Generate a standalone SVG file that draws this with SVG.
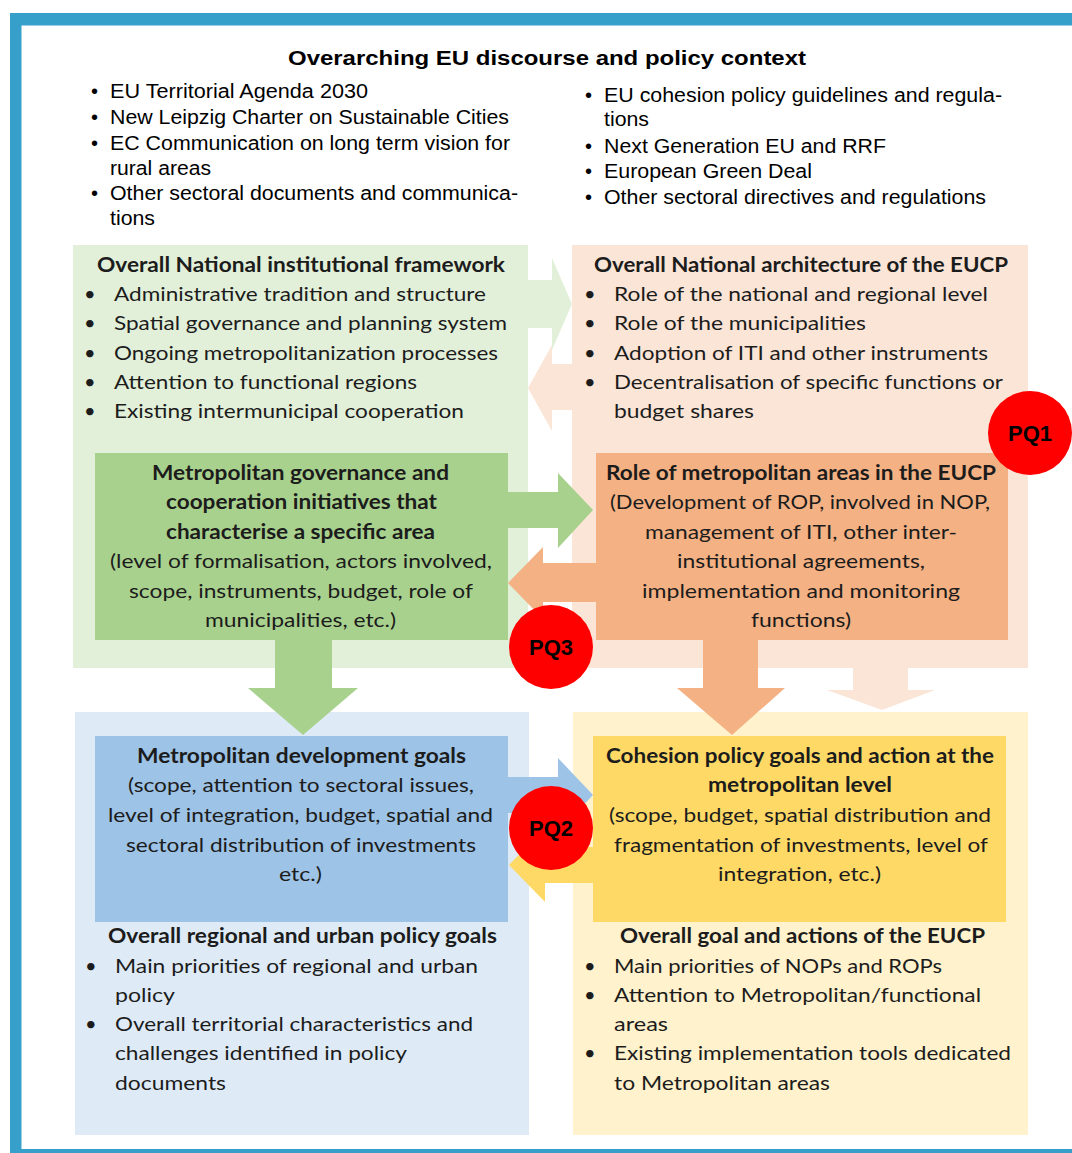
<svg xmlns="http://www.w3.org/2000/svg" width="1072" height="1153" viewBox="0 0 1072 1153">
<style>
.t{font-family:Lato,'Noto Sans',sans-serif;font-size:20px;fill:#1c1c1c}
.b{font-weight:bold}
.a{font-family:'Liberation Sans',Arial,sans-serif;font-size:20px;fill:#000}
.pq{font-family:'Liberation Sans',Arial,sans-serif;font-weight:bold;font-size:22px;fill:#000;text-anchor:middle}
.circ{fill:#FF0000}
</style>
<g id="frame">
<rect x="10" y="13" width="1080" height="1150" fill="#36A0CB"/>
<rect x="21.5" y="25.5" width="1070" height="1123.5" fill="#FFFFFF"/>
</g>
<g id="context">
<text class="a b" x="547" y="65" text-anchor="middle" font-size="21" textLength="518" lengthAdjust="spacingAndGlyphs">Overarching EU discourse and policy context</text>
<text class="a" x="91" y="98">•</text><text class="a" x="110" y="98" textLength="258" lengthAdjust="spacingAndGlyphs">EU Territorial Agenda 2030</text>
<text class="a" x="91" y="124">•</text><text class="a" x="110" y="124" textLength="399" lengthAdjust="spacingAndGlyphs">New Leipzig Charter on Sustainable Cities</text>
<text class="a" x="91" y="150">•</text><text class="a" x="110" y="150" textLength="400" lengthAdjust="spacingAndGlyphs">EC Communication on long term vision for</text>
<text class="a" x="110" y="175" textLength="101" lengthAdjust="spacingAndGlyphs">rural areas</text>
<text class="a" x="91" y="200">•</text><text class="a" x="110" y="200" textLength="408" lengthAdjust="spacingAndGlyphs">Other sectoral documents and communica-</text>
<text class="a" x="110" y="225" textLength="45" lengthAdjust="spacingAndGlyphs">tions</text>
<text class="a" x="585" y="102">•</text><text class="a" x="604" y="102" textLength="398" lengthAdjust="spacingAndGlyphs">EU cohesion policy guidelines and regula-</text>
<text class="a" x="604" y="126" textLength="45" lengthAdjust="spacingAndGlyphs">tions</text>
<text class="a" x="585" y="153">•</text><text class="a" x="604" y="153" textLength="282" lengthAdjust="spacingAndGlyphs">Next Generation EU and RRF</text>
<text class="a" x="585" y="178">•</text><text class="a" x="604" y="178" textLength="208" lengthAdjust="spacingAndGlyphs">European Green Deal</text>
<text class="a" x="585" y="204">•</text><text class="a" x="604" y="204" textLength="382" lengthAdjust="spacingAndGlyphs">Other sectoral directives and regulations</text>
</g>
<g id="national-framework">
<rect x="73" y="245" width="455" height="423" fill="#E2F0D9"/>
<text class="t b" x="97" y="272" textLength="408" lengthAdjust="spacingAndGlyphs">Overall National institutional framework</text>
<text class="t" x="84" y="301">•</text><text class="t" x="114" y="301" textLength="372" lengthAdjust="spacingAndGlyphs">Administrative tradition and structure</text>
<text class="t" x="84" y="330">•</text><text class="t" x="114" y="330" textLength="393" lengthAdjust="spacingAndGlyphs">Spatial governance and planning system</text>
<text class="t" x="84" y="360">•</text><text class="t" x="114" y="360" textLength="384" lengthAdjust="spacingAndGlyphs">Ongoing metropolitanization processes</text>
<text class="t" x="84" y="389">•</text><text class="t" x="114" y="389" textLength="303" lengthAdjust="spacingAndGlyphs">Attention to functional regions</text>
<text class="t" x="84" y="418">•</text><text class="t" x="114" y="418" textLength="350" lengthAdjust="spacingAndGlyphs">Existing intermunicipal cooperation</text>
</g>
<g id="national-architecture">
<rect x="572" y="245" width="456" height="423" fill="#FBE5D6"/>
<text class="t b" x="594" y="272" textLength="414" lengthAdjust="spacingAndGlyphs">Overall National architecture of the EUCP</text>
<text class="t" x="584" y="301">•</text><text class="t" x="614" y="301" textLength="374" lengthAdjust="spacingAndGlyphs">Role of the national and regional level</text>
<text class="t" x="584" y="330">•</text><text class="t" x="614" y="330" textLength="252" lengthAdjust="spacingAndGlyphs">Role of the municipalities</text>
<text class="t" x="584" y="360">•</text><text class="t" x="614" y="360" textLength="374" lengthAdjust="spacingAndGlyphs">Adoption of ITI and other instruments</text>
<text class="t" x="584" y="389">•</text><text class="t" x="614" y="389" textLength="389" lengthAdjust="spacingAndGlyphs">Decentralisation of specific functions or</text>
<text class="t" x="614" y="418" textLength="140" lengthAdjust="spacingAndGlyphs">budget shares</text>
</g>
<g id="regional-urban-goals">
<rect x="75" y="712" width="454" height="423" fill="#DEEBF7"/>
<text class="t b" x="108" y="943" textLength="389" lengthAdjust="spacingAndGlyphs">Overall regional and urban policy goals</text>
<text class="t" x="85" y="973">•</text><text class="t" x="115" y="973" textLength="363" lengthAdjust="spacingAndGlyphs">Main priorities of regional and urban</text>
<text class="t" x="115" y="1002" textLength="60" lengthAdjust="spacingAndGlyphs">policy</text>
<text class="t" x="85" y="1031">•</text><text class="t" x="115" y="1031" textLength="358" lengthAdjust="spacingAndGlyphs">Overall territorial characteristics and</text>
<text class="t" x="115" y="1060" textLength="292" lengthAdjust="spacingAndGlyphs">challenges identified in policy</text>
<text class="t" x="115" y="1090" textLength="111" lengthAdjust="spacingAndGlyphs">documents</text>
</g>
<g id="eucp-goals">
<rect x="573" y="712" width="455" height="423" fill="#FFF2CC"/>
<text class="t b" x="620" y="943" textLength="365" lengthAdjust="spacingAndGlyphs">Overall goal and actions of the EUCP</text>
<text class="t" x="584" y="973">•</text><text class="t" x="614" y="973" textLength="328" lengthAdjust="spacingAndGlyphs">Main priorities of NOPs and ROPs</text>
<text class="t" x="584" y="1002">•</text><text class="t" x="614" y="1002" textLength="367" lengthAdjust="spacingAndGlyphs">Attention to Metropolitan/functional</text>
<text class="t" x="614" y="1031" textLength="54" lengthAdjust="spacingAndGlyphs">areas</text>
<text class="t" x="584" y="1060">•</text><text class="t" x="614" y="1060" textLength="397" lengthAdjust="spacingAndGlyphs">Existing implementation tools dedicated</text>
<text class="t" x="614" y="1090" textLength="216" lengthAdjust="spacingAndGlyphs">to Metropolitan areas</text>
</g>
<g id="metro-governance">
<rect x="95" y="453" width="413" height="187" fill="#A9D18E"/>
<text class="t b" x="152" y="480" textLength="297" lengthAdjust="spacingAndGlyphs">Metropolitan governance and</text>
<text class="t b" x="166" y="509" textLength="271" lengthAdjust="spacingAndGlyphs">cooperation initiatives that</text>
<text class="t b" x="166" y="539" textLength="269" lengthAdjust="spacingAndGlyphs">characterise a specific area</text>
<text class="t" x="110" y="568" textLength="382" lengthAdjust="spacingAndGlyphs">(level of formalisation, actors involved,</text>
<text class="t" x="129" y="598" textLength="344" lengthAdjust="spacingAndGlyphs">scope, instruments, budget, role of</text>
<text class="t" x="205" y="627" textLength="191" lengthAdjust="spacingAndGlyphs">municipalities, etc.)</text>
</g>
<g id="metro-role-eucp">
<rect x="596" y="453" width="412" height="187" fill="#F4B183"/>
<text class="t b" x="606" y="480" textLength="390" lengthAdjust="spacingAndGlyphs">Role of metropolitan areas in the EUCP</text>
<text class="t" x="610" y="509" textLength="380" lengthAdjust="spacingAndGlyphs">(Development of ROP, involved in NOP,</text>
<text class="t" x="645" y="539" textLength="312" lengthAdjust="spacingAndGlyphs">management of ITI, other inter-</text>
<text class="t" x="677" y="568" textLength="248" lengthAdjust="spacingAndGlyphs">institutional agreements,</text>
<text class="t" x="642" y="598" textLength="318" lengthAdjust="spacingAndGlyphs">implementation and monitoring</text>
<text class="t" x="751" y="627" textLength="100" lengthAdjust="spacingAndGlyphs">functions)</text>
</g>
<g id="metro-dev-goals">
<rect x="95" y="736" width="413" height="186" fill="#9DC3E6"/>
<text class="t b" x="137" y="763" textLength="329" lengthAdjust="spacingAndGlyphs">Metropolitan development goals</text>
<text class="t" x="128" y="792" textLength="346" lengthAdjust="spacingAndGlyphs">(scope, attention to sectoral issues,</text>
<text class="t" x="108" y="822" textLength="385" lengthAdjust="spacingAndGlyphs">level of integration, budget, spatial and</text>
<text class="t" x="126" y="852" textLength="350" lengthAdjust="spacingAndGlyphs">sectoral distribution of investments</text>
<text class="t" x="279" y="881" textLength="43" lengthAdjust="spacingAndGlyphs">etc.)</text>
</g>
<g id="cohesion-goals">
<rect x="593" y="736" width="413" height="186" fill="#FFD966"/>
<text class="t b" x="606" y="763" textLength="388" lengthAdjust="spacingAndGlyphs">Cohesion policy goals and action at the</text>
<text class="t b" x="708" y="792" textLength="184" lengthAdjust="spacingAndGlyphs">metropolitan level</text>
<text class="t" x="609" y="822" textLength="382" lengthAdjust="spacingAndGlyphs">(scope, budget, spatial distribution and</text>
<text class="t" x="614" y="852" textLength="374" lengthAdjust="spacingAndGlyphs">fragmentation of investments, level of</text>
<text class="t" x="718" y="881" textLength="163" lengthAdjust="spacingAndGlyphs">integration, etc.)</text>
</g>
<g id="connectors">
<polygon fill="#E2F0D9" points="520,280 552,280 552,258 572,304 552,350 552,328 520,328"/>
<polygon fill="#FBE5D6" points="580,364 552,364 552,345 528,388 552,431 552,410 580,410"/>
<polygon fill="#A9D18E" points="500,492 558,492 558,473 593,510 558,548 558,528 500,528"/>
<polygon fill="#F4B183" points="600,563 543,563 543,547 508,583 543,619 543,602 600,602"/>
<polygon fill="#A9D18E" points="275,630 332,630 332,688 358,688 303,735 248,688 275,688"/>
<polygon fill="#F4B183" points="703,630 758,630 758,688 785,688 732,735 677,688 703,688"/>
<polygon fill="#FBE5D6" points="853,650 908,650 908,690 935,690 882,710 827,690 853,690"/>
<polygon fill="#9DC3E6" points="500,777 558,777 558,758 593,795 558,832 558,813 500,813"/>
<polygon fill="#FFD966" points="600,847 545,847 545,828 509,865 545,902 545,883 600,883"/>
</g>
<g id="pq1"><circle class="circ" cx="1030" cy="433" r="42"/><text class="pq" x="1030" y="441">PQ1</text></g>
<g id="pq3"><circle class="circ" cx="551" cy="647" r="42"/><text class="pq" x="551" y="655">PQ3</text></g>
<g id="pq2"><circle class="circ" cx="551" cy="828" r="42"/><text class="pq" x="551" y="836">PQ2</text></g>
</svg>
